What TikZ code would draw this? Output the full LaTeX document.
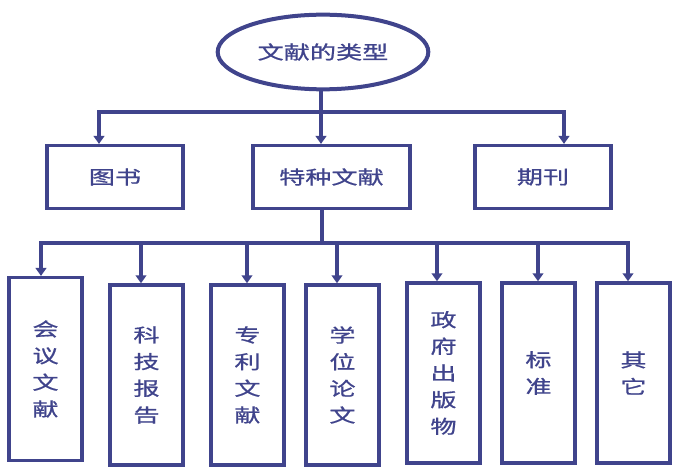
\documentclass[tikz,border=0pt]{standalone}
\usepackage{fontspec}
\newfontfamily\cjk[FakeStretch=1.4, FakeBold=0.8]{Noto Sans CJK SC}
\usetikzlibrary{positioning,shapes.geometric,arrows.meta}
\definecolor{docblue}{RGB}{64,68,140}

\begin{document}
\begin{tikzpicture}[x=0.75pt, y=-0.75pt,
    box/.style={draw=docblue, line width=2.6pt, text=docblue, inner sep=0pt,
        font=\cjk\fontsize{14}{20}\selectfont},
    wide/.style={box, minimum width=102pt, minimum height=47pt},
    tall/.style={box, minimum width=55pt, minimum height=135pt, align=center},
    bus/.style={docblue, line width=3pt},
    arr/.style={docblue, line width=3pt, -{Triangle[width=8pt, length=6pt]}}]

    \useasboundingbox[fill=white] (0,0) rectangle (679,474);

    % =====================================================
    % ROOT
    % =====================================================
    \node[box, ellipse, line width=3pt, minimum width=158pt, minimum height=56pt] (type) at (323,52) {文献的类型};

    % =====================================================
    % SECOND ROW
    % =====================================================
    \node[wide] (book) at (115,177) {图书};
    \node[wide, minimum width=118pt] (spec) at (331.5,177) {特种文献};
    \node[wide] (journal) at (543,177) {期刊};

    % Top bus
    \coordinate (t1) at (99,112);
    \coordinate (t0) at (321,112);
    \coordinate (t3) at (564,112);
    \draw[bus, line cap=rect] (t1) -- (t3);
    \draw[bus] (t0 |- type.south) -- (t0);
    \draw[arr] (t1) -- (t1 |- book.north);
    \draw[arr] (t0) -- (t0 |- spec.north);
    \draw[arr] (t3) -- (t3 |- journal.north);

    % =====================================================
    % THIRD ROW: SPECIAL DOCUMENTS
    % =====================================================
    \node[tall, minimum height=137pt] (meet) at (45.5,369) {会\\议\\文\\献};
    \node[tall] (report) at (146.5,375) {科\\技\\报\\告};
    \node[tall] (patent) at (247.5,375) {专\\利\\文\\献};
    \node[tall] (thesis) at (342.5,375) {学\\位\\论\\文};
    \node[tall] (gov) at (443.5,373) {政\\府\\出\\版\\物};
    \node[tall] (std) at (538.5,373) {标\\准};
    \node[tall] (other) at (633.5,373) {其\\它};

    % Lower bus
    \coordinate (s0) at (322,243);
    \draw[bus] (s0 |- spec.south) -- (s0);
    \foreach \n/\x in {meet/41, report/141, patent/247, thesis/337, gov/437, std/538, other/628}
        \path (\x,243) coordinate (a-\n);
    \draw[bus, line cap=rect] (a-meet) -- (a-other);
    \foreach \n in {meet, report, patent, thesis, gov, std, other}
        \draw[arr] (a-\n) -- (a-\n |- \n.north);

\end{tikzpicture}
\end{document}
